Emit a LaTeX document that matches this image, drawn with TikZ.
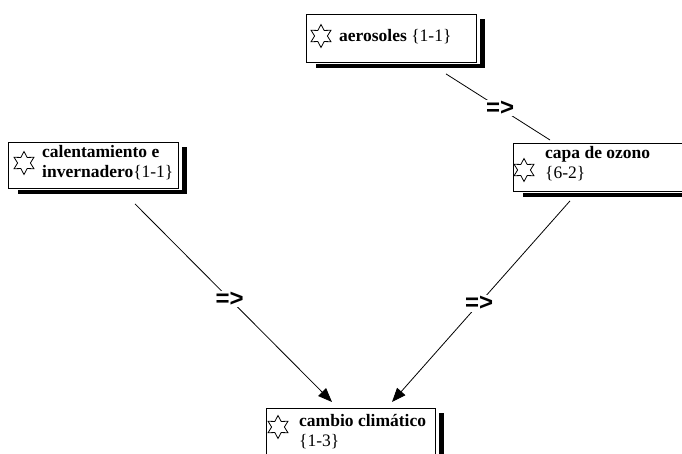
\documentclass[tikz,border=0pt]{standalone}
\usepackage{fontspec}
\setmainfont{Liberation Serif}
\setsansfont{Liberation Sans}
\usetikzlibrary{shapes.geometric,arrows.meta,calc}
\tikzset{
  cbox/.style={draw=black,line width=0.9pt,fill=white,inner sep=0pt,anchor=north west},
  sstar/.style={draw=black,line width=0.8pt,star,star points=6,star point ratio=1.8,minimum size=23pt,inner sep=0pt},
  ctext/.style={anchor=base west,inner sep=0pt,align=left,font=\fontsize{17.5}{20}\selectfont},
  rel/.style={font=\sffamily\bfseries\fontsize{24}{24}\selectfont,fill=white,inner sep=1pt},
  conn/.style={line width=0.8pt},
  arr/.style={conn,-{Triangle[length=14pt,width=11pt]}}
}
\newcommand\myshadow[1]{%
  \fill ($(#1.north east)+(3,5)$) rectangle ($(#1.south east)+(8,5)$);
  \fill ($(#1.south west)+(10,1)$) rectangle ($(#1.south east)+(8,5)$);
}
\begin{document}
\begin{tikzpicture}[x=1pt,y=-1pt]
\useasboundingbox (0,0) rectangle (682,454);
\clip (0,0) rectangle (682,454);
% boxes
\node[cbox,minimum width=170pt,minimum height=48pt] (aer) at (306,14) {};
\node[cbox,minimum width=170pt,minimum height=46pt] (cal) at (8,142) {};
\node[cbox,minimum width=180pt,minimum height=48pt] (oz) at (513,143) {};
\node[cbox,minimum width=169pt,minimum height=60pt] (cam) at (266,408) {};
\myshadow{aer}
\myshadow{cal}
\myshadow{oz}
\myshadow{cam}
% stars and texts
\node[sstar] (aers) at (321,36) {};
\node[ctext] (aert) at (339,42) {\textbf{aerosoles} \{1-1\}};
\node[sstar] (cals) at (24,163) {};
\node[ctext] (calt) at (42,178) {\textbf{calentamiento e}\\\textbf{invernadero}\{1-1\}};
\node[sstar] (ozs) at (524,170) {};
\node[ctext] (ozt) at (545,179) {\textbf{capa de ozono}\\\{6-2\}};
\node[sstar] (cams) at (278,427) {};
\node[ctext] (camt) at (299,446) {\textbf{cambio climático}\\\{1-3\}};
% connectors
\draw[conn] ($(aer.south west)+(140,11)$) -- node[rel,pos=0.52] (r1) {=>} ($(oz.north west)+(37,-3)$);
\draw[arr] ($(cal.south west)+(127,15)$) -- node[rel,pos=0.48] (r2) {=>} ($(cam.north west)+(66,-6)$);
\draw[arr] ($(oz.south west)+(57,9)$) -- node[rel,pos=0.51] (r3) {=>} ($(cam.north west)+(126,-6)$);
\end{tikzpicture}
\end{document}
